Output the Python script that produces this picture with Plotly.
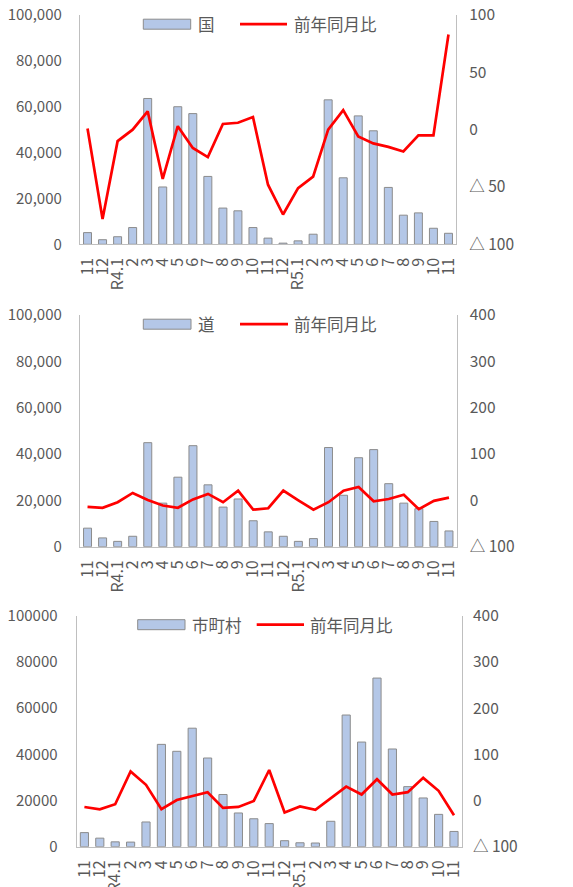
import plotly.graph_objects as go

labels = ["11", "12", "R4.1", "2", "3", "4", "5", "6", "7", "8", "9", "10", "11",
          "12", "R5.1", "2", "3", "4", "5", "6", "7", "8", "9", "10", "11"]

kuni = [5100, 2000, 3300, 7300, 63600, 25000, 60000, 57000, 29600, 15800, 14600, 7300,
        2700, 500, 1500, 4400, 63000, 29000, 56000, 49500, 24800, 12700, 13700, 7000, 4800]
kuni_yoy = [1, -78, -10, 0, 16, -43, 3, -16, -24, 5, 6, 11,
            -48, -74, -51, -41, 0, 17, -6, -12, -15, -19, -5, -5, 83]

dou = [8000, 3800, 2300, 4500, 44900, 18800, 30000, 43600, 26700, 17100, 20600, 11200,
       6400, 4500, 2300, 3500, 42800, 22200, 38400, 41900, 27200, 18800, 16400, 10900, 6800]
dou_yoy = [-14, -16, -4, 16, 1, -11, -16, 2, 14, -4, 21, -20,
           -17, 21, 0, -20, -4, 21, 29, -2, 3, 12, -19, -1, 6]

shi = [6100, 3700, 2100, 2000, 10700, 44300, 41300, 51300, 38400, 22600, 14600, 12100,
       10000, 2600, 1700, 1600, 11000, 57000, 45300, 73000, 42300, 26000, 21100, 14000, 6600]
shi_yoy = [-14, -19, -8, 63, 34, -19, 1, 9, 18, -16, -14, -1,
           66, -26, -13, -20, 5, 30, 13, 46, 13, 18, 49, 21, -32]

names = ["国", "道", "市町村"]
yoy_name = "前年同月比"

OFF = 8  # page body margin
W, H = 573 - OFF, 887 - OFF
FONT = "Noto Sans CJK JP, Noto Sans, sans-serif"
GRAY = "#595959"
LINE = "#bfbfbf"
BAR = "#B4C7E7"
BAR_EDGE = "#8c8c8c"
RED = "#FF0000"


def px(x):
    return (x - OFF) / W


def py(y):
    return 1 - (y - OFF) / H


# page-pixel boxes: (left, right, top, bottom)
boxes = [(80, 456, 15, 244.3), (80, 456.5, 315, 546.7), (76.7, 461.7, 615.7, 846.7)]
# legend geometry: rect x0,x1, text x, line x0,x1, text2 x, y center
legends = [(143.3, 190.7, 196, 240, 287, 292, 24.2),
           (143.3, 191, 196, 240, 288, 292, 324.2),
           (137.7, 185, 190, 256.7, 304, 308, 624.7)]
left_stand = [14, 14, 15]
right_stand = [9, 9, 7]

bars = [kuni, dou, shi]
lines = [kuni_yoy, dou_yoy, shi_yoy]
right_ranges = [(-100, 100), (-100, 400), (-100, 400)]
right_ticks = [
    ([100, 50, 0, -50, -100], ["100", "50", "0", "△ 50", "△ 100"]),
    ([400, 300, 200, 100, 0, -100], ["400", "300", "200", "100", "0", "△ 100"]),
    ([400, 300, 200, 100, 0, -100], ["400", "300", "200", "100", "0", "△ 100"]),
]
left_fmt = [",", ",", "d"]

xs = list(range(len(labels)))
fig = go.Figure()
layout = dict(
    width=W, height=H, margin=dict(l=0, r=0, t=0, b=0),
    template="none", plot_bgcolor="white", paper_bgcolor="white",
    font=dict(family=FONT, color=GRAY, size=16), showlegend=False,
)
shapes = []
annotations = []

for i in range(3):
    n = i + 1
    xa = "x" if n == 1 else f"x{n}"
    ya = "y" if i == 0 else f"y{2*i+1}"
    ya2 = f"y{2*i+2}"
    fig.add_trace(go.Bar(x=xs, y=bars[i], name=names[i], xaxis=xa, yaxis=ya,
                         marker=dict(color=BAR, line=dict(color=BAR_EDGE, width=1)),
                         width=0.53))
    fig.add_trace(go.Scatter(x=xs, y=lines[i], name=yoy_name, xaxis=xa, yaxis=ya2,
                             mode="lines", line=dict(color=RED, width=2.7)))
    l, r, t, b = boxes[i]
    xd = [px(l), px(r)]
    yd = [py(b), py(t)]
    xkey = "xaxis" if n == 1 else f"xaxis{n}"
    ykey = "yaxis" if i == 0 else f"yaxis{2*i+1}"
    y2key = f"yaxis{2*i+2}"
    common = dict(showline=True, linecolor=LINE, linewidth=1.3, showgrid=False,
                  ticks="", zeroline=False, automargin=False, ticklabeloverflow="allow")
    layout[xkey] = dict(domain=xd, anchor=ya, range=[-0.5, len(labels) - 0.5],
                        tickvals=xs, ticktext=labels, tickangle=-90,
                        ticklabelstandoff=6,
                        tickfont=dict(size=16, color=GRAY), **common)
    layout[ykey] = dict(domain=yd, anchor=xa, range=[0, 100000],
                        tickvals=list(range(0, 100001, 20000)), tickformat=left_fmt[i],
                        ticklabelstandoff=left_stand[i],
                        tickfont=dict(size=15, color=GRAY), **common)
    layout[y2key] = dict(domain=yd, anchor=xa, overlaying=ya, side="right",
                         range=list(right_ranges[i]),
                         tickvals=right_ticks[i][0], ticktext=right_ticks[i][1],
                         ticklabelstandoff=right_stand[i],
                         tickfont=dict(size=15.5, color=GRAY), **common)
    rx0, rx1, tx, lx0, lx1, tx2, cy = legends[i]
    shapes.append(dict(type="rect", xref="paper", yref="paper",
                       x0=px(rx0), x1=px(rx1), y0=py(cy + 5), y1=py(cy - 5),
                       fillcolor=BAR, line=dict(color=BAR_EDGE, width=1)))
    shapes.append(dict(type="line", xref="paper", yref="paper",
                       x0=px(lx0), x1=px(lx1), y0=py(cy), y1=py(cy),
                       line=dict(color=RED, width=2.7)))
    annotations.append(dict(text=names[i], xref="paper", yref="paper",
                            x=px(tx), y=py(cy), xanchor="left", yanchor="middle",
                            showarrow=False, font=dict(size=16.5, color=GRAY)))
    annotations.append(dict(text=yoy_name, xref="paper", yref="paper",
                            x=px(tx2), y=py(cy), xanchor="left", yanchor="middle",
                            showarrow=False, font=dict(size=16.5, color=GRAY)))

layout["shapes"] = shapes
layout["annotations"] = annotations
fig.update_layout(**layout)
fig.write_html("out.html")
